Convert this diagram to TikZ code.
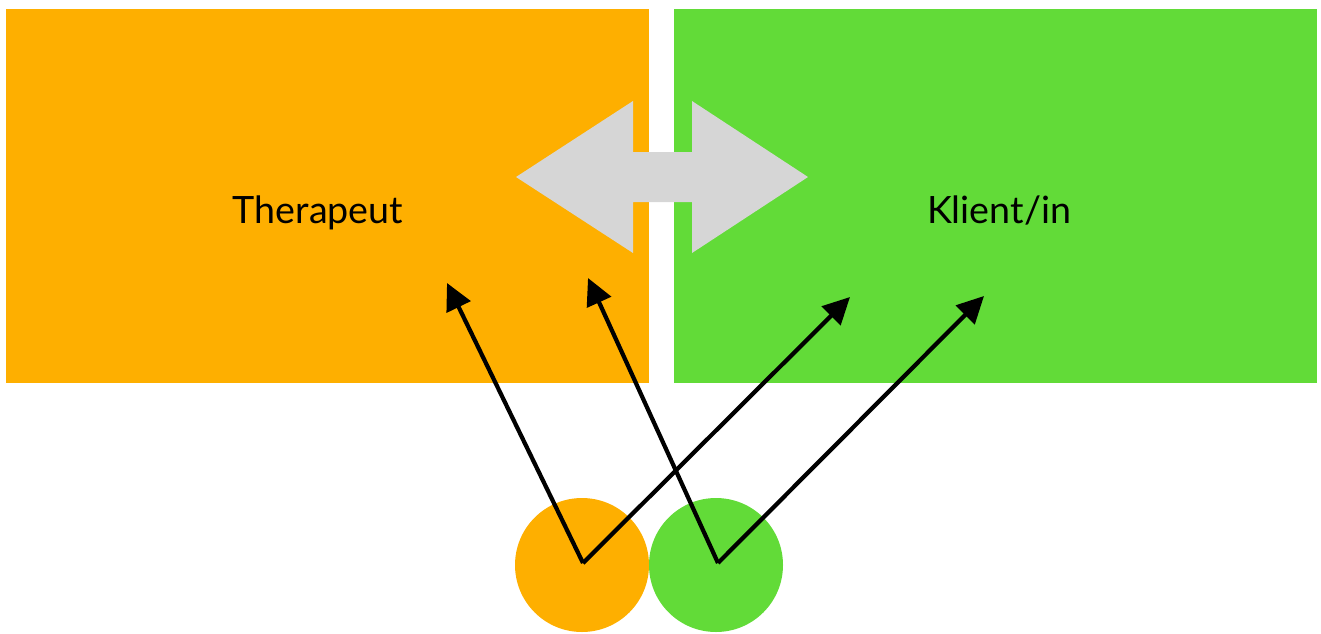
\documentclass[tikz,border=0pt]{standalone}
\usepackage{fontspec}
\setmainfont{Lato}
\usetikzlibrary{arrows.meta}
\definecolor{torange}{HTML}{FEAF00}
\definecolor{kgreen}{HTML}{62DB38}
\definecolor{dgray}{HTML}{D6D6D6}
\begin{document}
\begin{tikzpicture}[x=0.01cm,y=-0.01cm,
  block/.style={draw=none,inner sep=0pt,outer sep=0pt,minimum width=643*0.01cm,minimum height=374*0.01cm},
  dot/.style={circle,draw=none,inner sep=0pt,outer sep=0pt,minimum size=134*0.01cm},
  lbl/.style={font=\fontsize{10.7}{12}\selectfont,text=black,anchor=base,inner sep=0pt},
  conn/.style={line width=1.2pt,-{Triangle[length=7.6pt,width=7.4pt]}}]
\useasboundingbox (0,0) rectangle (1321,633);
\node[block,fill=torange] (ther) at (327.5,196) {};
\node[block,fill=kgreen] (kli) at (995.5,196) {};
\fill[dgray] (516,177) -- (633,101) -- (633,152) -- (692,152) -- (692,101) -- (808,177)
  -- (692,253) -- (692,202) -- (633,202) -- (633,253) -- cycle;
\node[lbl] (tl) at (318,223) {Therapeut};
\node[lbl] (kl) at (999,223) {Klient/in};
\node[dot,fill=torange] (c1) at (582,565) {};
\node[dot,fill=kgreen] (c2) at (716,565) {};
\coordinate (o1) at (583,563);
\coordinate (o2) at (718,563);
\coordinate (a1) at (447,283);
\coordinate (a2) at (850,297);
\coordinate (a3) at (588,278);
\coordinate (a4) at (984,296);
\draw[conn] (o1) -- (a1);
\draw[conn] (o1) -- (a2);
\draw[conn] (o2) -- (a3);
\draw[conn] (o2) -- (a4);
\end{tikzpicture}
\end{document}
